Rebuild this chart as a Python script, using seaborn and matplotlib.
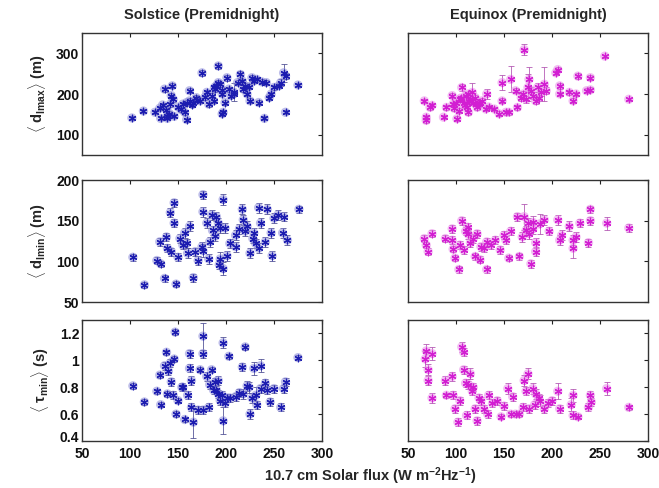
import pandas as pd
import matplotlib
matplotlib.use("Agg")
import matplotlib.pyplot as plt
import matplotlib.transforms as mtransforms
import seaborn as sns

# ---- DATA ----
# Solstice, <d_lmax>
sol_dmax_x = [102, 114, 126, 131, 134, 136, 138, 139, 142, 144, 143, 145, 146, 132, 139,
              155, 157, 159, 159, 162, 162, 166, 169, 173, 175, 180, 182, 185, 187, 189,
              190, 192, 192, 194, 196, 196, 197, 199, 201, 203, 208, 208, 215, 217, 218,
              220, 222, 225, 227, 229, 232, 234, 240, 242, 245, 247, 250, 255, 257, 260,
              262, 262, 275, 150, 170, 178, 188, 205, 212, 237, 141, 153, 165, 196, 224]
sol_dmax_y = [141, 158, 155, 165, 173, 212, 161, 147, 175, 220, 196, 187, 145, 140, 140,
              175, 155, 137, 179, 208, 183, 179, 191, 183, 252, 204, 175, 196, 183, 212,
              220, 269, 228, 224, 200, 151, 155, 179, 240, 212, 205, 200, 248, 232, 212,
              220, 200, 183, 240, 232, 236, 179, 140, 228, 191, 200, 216, 220, 228, 252,
              155, 244, 222, 168, 186, 192, 216, 196, 228, 230, 152, 162, 174, 210, 218]
sol_dmax_e = [5, 5, 5, 5, 5, 6, 5, 5, 6, 6, 6, 6, 5, 5, 5,
              6, 6, 5, 7, 6, 6, 6, 6, 6, 8, 6, 6, 6, 6, 7,
              7, 8, 6, 6, 6, 6, 6, 6, 7, 6, 22, 6, 8, 6, 6,
              6, 6, 6, 7, 6, 6, 6, 5, 6, 6, 6, 6, 6, 8, 22,
              5, 8, 5, 6, 6, 6, 6, 6, 6, 6, 5, 6, 6, 6, 6]

# Equinox, <d_lmax>
equ_dmax_x = [67, 69, 69, 73, 75, 87, 90, 96, 97, 101, 103, 104, 106, 108, 110,
              111, 113, 115, 117, 118, 120, 122, 124, 127, 131, 132, 134, 140, 145, 148,
              148, 152, 155, 157, 162, 164, 168, 171, 173, 175, 176, 178, 180, 183, 185,
              189, 192, 194, 204, 206, 208, 208, 218, 222, 225, 227, 236, 240, 240, 255,
              280, 100, 105, 112, 116, 125, 98, 186, 170, 109, 114, 121]
equ_dmax_y = [183, 143, 135, 167, 172, 143, 167, 196, 175, 139, 159, 187, 216, 179, 196,
              167, 155, 187, 204, 179, 191, 167, 175, 183, 163, 200, 168, 163, 151, 183,
              228, 155, 155, 236, 208, 167, 191, 309, 187, 216, 236, 208, 196, 183, 216,
              204, 224, 208, 252, 260, 220, 200, 204, 183, 200, 244, 208, 240, 210, 293,
              187, 178, 190, 200, 184, 178, 165, 190, 200, 172, 182, 176]
equ_dmax_e = [5, 6, 6, 6, 5, 5, 6, 6, 6, 6, 6, 7, 8, 6, 7,
              7, 6, 7, 22, 6, 7, 6, 6, 6, 6, 12, 6, 6, 6, 6,
              18, 6, 6, 32, 6, 6, 8, 14, 8, 34, 30, 8, 8, 8, 10,
              8, 42, 8, 6, 6, 8, 6, 6, 6, 6, 8, 6, 6, 6, 4,
              4, 6, 6, 6, 6, 6, 6, 8, 8, 6, 6, 6]

# Solstice, <d_lmin>
sol_dmin_x = [103, 115, 128, 132, 136, 131, 138, 139, 142, 146, 146, 143, 148, 150, 155,
              157, 159, 160, 162, 166, 171, 175, 176, 176, 176, 180, 182, 183, 185, 189,
              190, 192, 194, 194, 197, 197, 199, 201, 204, 210, 210, 217, 218, 220, 222,
              225, 229, 231, 234, 234, 236, 241, 243, 247, 248, 250, 259, 260, 264, 276,
              152, 168, 186, 193, 214, 228, 254]
sol_dmin_y = [105, 71, 101, 97, 79, 124, 130, 116, 160, 172, 147, 112, 72, 105, 120,
              135, 122, 110, 143, 80, 101, 118, 182, 161, 113, 147, 103, 124, 157, 131,
              155, 147, 141, 103, 176, 91, 141, 107, 122, 132, 118, 164, 151, 137, 143,
              110, 135, 122, 166, 116, 147, 124, 164, 135, 107, 153, 135, 155, 126, 164,
              128, 112, 138, 96, 140, 128, 157]
sol_dmin_e = [4, 4, 4, 4, 4, 5, 5, 5, 5, 5, 5, 5, 4, 5, 5,
              6, 6, 6, 6, 5, 5, 6, 5, 6, 8, 6, 6, 6, 6, 6,
              6, 6, 6, 8, 7, 8, 6, 6, 6, 6, 6, 6, 6, 6, 6,
              6, 6, 6, 6, 6, 6, 6, 6, 6, 6, 6, 6, 6, 6, 4,
              5, 5, 6, 6, 6, 6, 6]

# Equinox, <d_lmin>
equ_dmin_x = [67, 69, 71, 75, 89, 96, 96, 97, 99, 103, 106, 108, 110, 113, 115,
              118, 120, 122, 125, 129, 132, 132, 136, 141, 146, 152, 155, 157, 164, 166,
              169, 171, 173, 175, 176, 178, 180, 183, 183, 187, 192, 197, 206, 208, 210,
              218, 222, 222, 225, 229, 238, 240, 240, 257, 280, 104, 112, 126, 150, 180]
equ_dmin_y = [128, 120, 112, 134, 128, 140, 126, 115, 104, 90, 150, 114, 137, 133, 123,
              128, 106, 134, 102, 116, 90, 124, 120, 126, 114, 126, 104, 137, 155, 106,
              130, 155, 138, 147, 134, 97, 148, 123, 112, 146, 151, 137, 151, 126, 132,
              143, 126, 116, 130, 147, 123, 164, 150, 147, 141, 120, 142, 118, 132, 140]
equ_dmin_e = [4, 4, 4, 4, 4, 5, 5, 4, 4, 4, 5, 5, 5, 5, 5,
              5, 4, 5, 4, 5, 4, 5, 5, 5, 5, 5, 4, 5, 5, 4,
              6, 16, 6, 6, 6, 5, 8, 6, 6, 12, 6, 5, 6, 6, 6,
              6, 6, 12, 6, 5, 5, 4, 5, 8, 5, 5, 5, 5, 5, 6]

# Solstice, <tau_min>
sol_tau_x = [103, 115, 128, 132, 131, 136, 139, 138, 142, 143, 145, 146, 147, 148, 150,
             155, 157, 160, 162, 162, 164, 164, 166, 171, 173, 176, 176, 176, 180, 182,
             183, 185, 187, 189, 192, 192, 194, 196, 197, 197, 199, 201, 203, 210, 217,
             218, 220, 222, 224, 225, 227, 229, 231, 232, 236, 236, 241, 243, 246, 250,
             257, 260, 262, 275, 140, 154, 190, 204, 214]
sol_tau_y = [0.81, 0.69, 0.77, 0.67, 0.89, 0.96, 0.75, 1.06, 0.98, 0.84, 0.74, 1.01, 1.21, 0.60, 0.70,
             0.80, 0.56, 0.74, 0.94, 1.05, 0.85, 0.65, 0.54, 0.63, 0.93, 1.05, 1.18, 0.63, 0.88, 0.65,
             0.82, 0.93, 0.78, 0.84, 0.85, 0.75, 0.70, 0.74, 0.55, 1.13, 0.68, 0.72, 1.03, 0.73, 0.95,
             0.75, 1.10, 0.81, 0.80, 0.60, 0.72, 0.94, 0.74, 0.67, 0.96, 0.79, 0.83, 0.78, 0.69, 0.79,
             0.65, 0.79, 0.84, 1.02, 0.92, 0.80, 0.78, 0.72, 0.76]
sol_tau_e = [0.02, 0.02, 0.02, 0.02, 0.02, 0.03, 0.02, 0.02, 0.03, 0.03, 0.03, 0.02, 0.02, 0.02, 0.02,
             0.02, 0.02, 0.03, 0.03, 0.03, 0.03, 0.03, 0.12, 0.03, 0.02, 0.03, 0.10, 0.03, 0.03, 0.03,
             0.03, 0.02, 0.03, 0.03, 0.03, 0.03, 0.03, 0.03, 0.10, 0.04, 0.03, 0.03, 0.02, 0.03, 0.03,
             0.04, 0.02, 0.04, 0.04, 0.04, 0.04, 0.05, 0.06, 0.03, 0.05, 0.03, 0.03, 0.03, 0.03, 0.03,
             0.03, 0.03, 0.03, 0.02, 0.03, 0.03, 0.03, 0.03, 0.03]

# Equinox, <tau_min>
equ_tau_x = [68, 69, 71, 71, 75, 75, 89, 96, 90, 97, 99, 102, 106, 108, 108,
             110, 111, 113, 115, 117, 120, 122, 124, 129, 133, 134, 138, 143, 147, 154,
             157, 159, 162, 166, 170, 171, 173, 175, 176, 180, 182, 183, 187, 192, 196,
             206, 208, 220, 222, 222, 227, 238, 240, 241, 257, 280, 104, 118, 126, 150, 186, 200]
equ_tau_y = [1.01, 1.07, 0.93, 0.85, 1.05, 0.72, 0.85, 0.88, 0.74, 0.74, 0.64, 0.54, 1.10, 1.06, 0.93,
             0.83, 0.59, 0.82, 0.90, 0.77, 0.64, 0.55, 0.72, 0.64, 0.60, 0.74, 0.68, 0.70, 0.58, 0.79,
             0.60, 0.73, 0.60, 0.60, 0.65, 0.85, 0.77, 0.90, 0.64, 0.79, 0.67, 0.75, 0.70, 0.64, 0.68,
             0.77, 0.64, 0.67, 0.74, 0.59, 0.58, 0.65, 0.74, 0.69, 0.79, 0.65, 0.70, 0.80, 0.70, 0.66, 0.72, 0.70]
equ_tau_e = [0.06, 0.05, 0.04, 0.03, 0.05, 0.04, 0.03, 0.03, 0.02, 0.03, 0.03, 0.03, 0.04, 0.03, 0.03,
             0.03, 0.03, 0.03, 0.04, 0.03, 0.03, 0.03, 0.03, 0.03, 0.03, 0.03, 0.03, 0.03, 0.02, 0.04,
             0.02, 0.03, 0.02, 0.02, 0.03, 0.04, 0.03, 0.04, 0.03, 0.04, 0.03, 0.04, 0.04, 0.03, 0.03,
             0.06, 0.03, 0.05, 0.05, 0.03, 0.02, 0.03, 0.03, 0.03, 0.05, 0.02, 0.03, 0.03, 0.03, 0.03, 0.03, 0.03]

titles = ["Solstice (Premidnight)", "Equinox (Premidnight)"]
ylabels = [r"$\langle\;\mathbf{d_{lmax}}\rangle$ (m)",
           r"$\langle\;\mathbf{d_{lmin}}\rangle$ (m)",
           r"$\langle\;\mathbf{\tau_{min}}\rangle$ (s)"]
xlabel = r"10.7 cm Solar flux (W m$^{\mathbf{-2}}$Hz$^{\mathbf{-1}}$)"
xticks = [50, 100, 150, 200, 250, 300]
yticks = [[100, 200, 300], [50, 100, 150, 200], [0.4, 0.6, 0.8, 1.0, 1.2]]
yticklabels = [["100", "200", "300"], ["50", "100", "150", "200"],
               ["0.4", "0.6", "0.8", "1", "1.2"]]
ylims = [(50, 350), (50, 200), (0.4, 1.3)]

panels = [
    [(sol_dmax_x, sol_dmax_y, sol_dmax_e), (equ_dmax_x, equ_dmax_y, equ_dmax_e)],
    [(sol_dmin_x, sol_dmin_y, sol_dmin_e), (equ_dmin_x, equ_dmin_y, equ_dmin_e)],
    [(sol_tau_x, sol_tau_y, sol_tau_e), (equ_tau_x, equ_tau_y, equ_tau_e)],
]
colors = ["#1c1cb0", "#d21ed2"]
halo = ["#8a8ad8", "#e88ae8"]
errc = ["#4a4a90", "#b050b0"]

# ---- Plot ----
sns.set_style("white")
plt.rcParams["font.family"] = ["Liberation Sans", "DejaVu Sans"]
plt.rcParams["font.weight"] = "bold"
plt.rcParams["mathtext.fontset"] = "custom"
plt.rcParams["mathtext.rm"] = "Liberation Sans:bold"
plt.rcParams["mathtext.bf"] = "Liberation Sans:bold"
plt.rcParams["mathtext.it"] = "Liberation Sans:bold"

fig = plt.figure(figsize=(6.59, 4.88), dpi=100)
lefts = [82 / 659, 408 / 659]
rows_px = [(33, 155), (180, 302), (320, 441)]

for r in range(3):
    for c in range(2):
        top, bot = rows_px[r]
        ax = fig.add_axes([lefts[c], 1 - bot / 488, 240 / 659, (bot - top) / 488])
        x, y, e = panels[r][c]
        df = pd.DataFrame({"x": x, "y": y, "e": e})
        ax.errorbar(df["x"], df["y"], yerr=df["e"], fmt="none", ecolor=errc[c],
                    elinewidth=0.7, capsize=2, capthick=0.7, alpha=0.8, zorder=2)
        sns.scatterplot(data=df, x="x", y="y", ax=ax, color=halo[c], s=45,
                        marker="o", edgecolor="none", alpha=0.55, zorder=3)
        sns.scatterplot(data=df, x="x", y="y", ax=ax, color=colors[c], s=22,
                        marker=(6, 2, 0), linewidth=0.9, zorder=4)
        ax.set_xlim(50, 300)
        ax.set_ylim(*ylims[r])
        ax.set_xticks(xticks)
        ax.set_yticks(yticks[r])
        ax.tick_params(direction="in", length=3, width=0.8, top=True, right=True,
                       labelsize=10, pad=2, colors="#222222")
        ax.tick_params(axis="both", labelcolor="#111111")
        ax.tick_params(axis="x", pad=4)
        for sp in ax.spines.values():
            sp.set_color("#333333")
            sp.set_linewidth(1.0)
        ax.set_xlabel("")
        if c == 0:
            labs = ax.set_yticklabels(yticklabels[r], fontweight="bold")
            ax.set_ylabel(ylabels[r], fontsize=10.5, fontweight="bold", labelpad=6)
            if r == 2:
                # lift the lowest label a little so it clears the "50" below
                shift = mtransforms.ScaledTranslation(0, 3 / 72, fig.dpi_scale_trans)
                labs[0].set_transform(labs[0].get_transform() + shift)
        else:
            ax.set_yticklabels([])
            ax.set_ylabel("")
        if r == 2:
            ax.set_xticklabels([str(t) for t in xticks], fontweight="bold")
        else:
            ax.set_xticklabels([])
        if r == 0:
            ax.set_title(titles[c], fontsize=10.5, fontweight="bold", pad=10)

fig.text(0.562, 0.025, xlabel, ha="center", va="center", fontsize=10.5, fontweight="bold")
fig.savefig("out.png", dpi=100, facecolor="white")
